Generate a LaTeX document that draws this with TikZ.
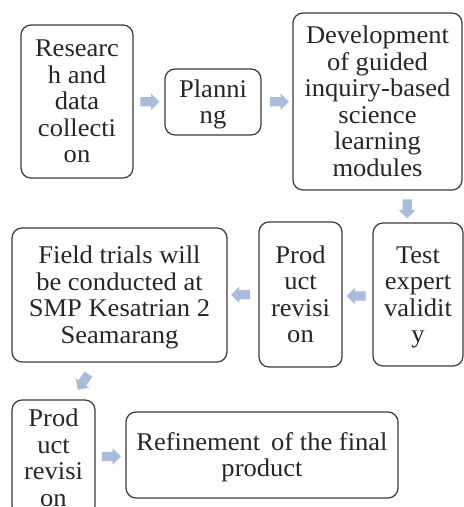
\documentclass[tikz,border=0pt]{standalone}
\usepackage{fontspec}
\usepackage{graphicx}
\setmainfont{Liberation Serif}
\usetikzlibrary{shapes.arrows,calc}
\definecolor{boxline}{RGB}{58,58,58}
\definecolor{arrowfill}{RGB}{168,188,220}
\newcommand\boxtext[1]{\raisebox{-3pt}[\height][\depth]{\scalebox{1.04}[1]{\begin{tabular}{@{}c@{}}#1\end{tabular}}}}
\begin{document}
\begin{tikzpicture}[x=1pt,y=-1pt,
  box/.style={draw=boxline, line width=1.2pt, rounded corners=10pt, align=center,
    inner sep=0pt, font=\fontsize{25.5}{26.5}\selectfont, text=black!85},
  barrow/.style={single arrow, fill=arrowfill, draw=none, inner sep=0pt, inner ysep=4.5pt,
    minimum height=19pt, single arrow head extend=3.5pt, single arrow tip angle=90}]
\useasboundingbox (0,0) rectangle (464,507);
\clip (0,0) rectangle (464,507);
\node[box, minimum width=112pt, minimum height=153pt] (r) at (77,101.5) {\boxtext{Researc\\h and\\data\\collecti\\on}};
\node[box, minimum width=96pt, minimum height=66pt] (p) at (213,102) {\boxtext{Planni\\ng}};
\node[box, minimum width=169pt, minimum height=177pt] (d) at (377.5,101.5) {\boxtext{Development\\of guided\\inquiry-based\\science\\learning\\modules}};
\node[box, minimum width=90pt, minimum height=143pt] (t) at (418,294.5) {\boxtext{Test\\expert\\validit\\y}};
\node[box, minimum width=83pt, minimum height=145pt] (pr) at (300.5,294.5) {\boxtext{Prod\\uct\\revisi\\on}};
\node[box, minimum width=215pt, minimum height=134pt] (f) at (119.5,295) {\boxtext{Field trials will\\be conducted at\\SMP Kesatrian 2\\Seamarang}};
\node[box, minimum width=83pt, minimum height=116pt] (pr2) at (53.5,458) {\boxtext{Prod\\uct\\revisi\\on}};
\node[box, minimum width=272pt, minimum height=86pt] (ref) at (262,455) {\boxtext{Refinement \,of the final\\product}};
% block arrows
\node[barrow] (a1) at ($(r.east)!.5!(p.west)+(-1.5,0)$) {};
\node[barrow] (a2) at ($(p.east)!.5!(d.west)$) {};
\node[barrow, rotate=270] (a3) at ($(d.south)!.5!(t.north)+(9.5,0)$) {};
\node[barrow, rotate=180] (a4) at ($(t.west)!.5!(pr.east)+(1,1.5)$) {};
\node[barrow, rotate=180] (a5) at ($(pr.west)!.5!(f.east)$) {};
\node[barrow, rotate=236] (a6) at ($(f.south)!.5!(pr2.north)+(-2,-1)$) {};
\node[barrow] (a7) at ($(pr2.east)!.5!(ref.west)+(-1.5,0)$) {};
\end{tikzpicture}
\end{document}
